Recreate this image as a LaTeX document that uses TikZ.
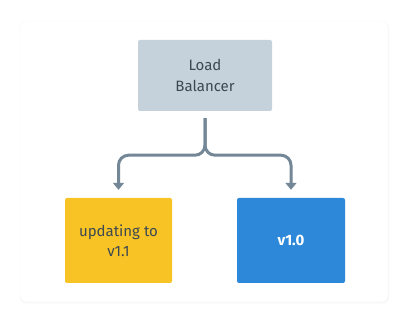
\documentclass[tikz,border=0pt]{standalone}
\usepackage{fontspec}
\setmainfont{Fira Sans}
\usetikzlibrary{arrows.meta}

\definecolor{lbgray}{HTML}{C5D1DB}
\definecolor{upyellow}{HTML}{F7C325}
\definecolor{oldblue}{HTML}{2D88D9}
\definecolor{flowgray}{HTML}{738797}
\definecolor{inkgray}{HTML}{3D4852}

\tikzset{
    box/.style={rounded corners=2pt, minimum width=#1, align=center,
        font=\fontsize{15}{20.5}\selectfont, text=inkgray},
    flow/.style={draw=flowgray, line width=3pt, rounded corners=10pt,
        -{Triangle[width=11pt,length=7pt]}}
}

\begin{document}
\begin{tikzpicture}[x=1pt, y=-1pt]
        \useasboundingbox (0,0) rectangle (410,323);
        % Tarjeta de fondo
        \fill[black!3, rounded corners=6pt] (20,22.5) rectangle (389,303.5);
        \filldraw[fill=white, draw=black!3, rounded corners=6pt] (20,21) rectangle (388,302);

        % Balanceador
        \node[box=134pt, minimum height=71pt, fill=lbgray] (lb) at (205,75.5) {Load\\Balancer};

        % Destinos
        \node[box=107pt, minimum height=85pt, fill=upyellow] (upd) at (118.5,240.5) {updating to\\v1.1};
        \node[box=108pt, minimum height=85pt, fill=oldblue, text=white,
            font=\fontsize{15}{20.5}\selectfont\bfseries] (v10) at (291,240.5) {v1.0};

        % Flechas
        \coordinate (split) at ([yshift=-44pt]lb.south);
        \draw[flow] ([yshift=-7pt]lb.south) -- (split) -| ([yshift=8pt]upd.north);
        \draw[flow] ([yshift=-7pt]lb.south) -- (split) -| ([yshift=8pt]v10.north);
    \end{tikzpicture}
\end{document}
